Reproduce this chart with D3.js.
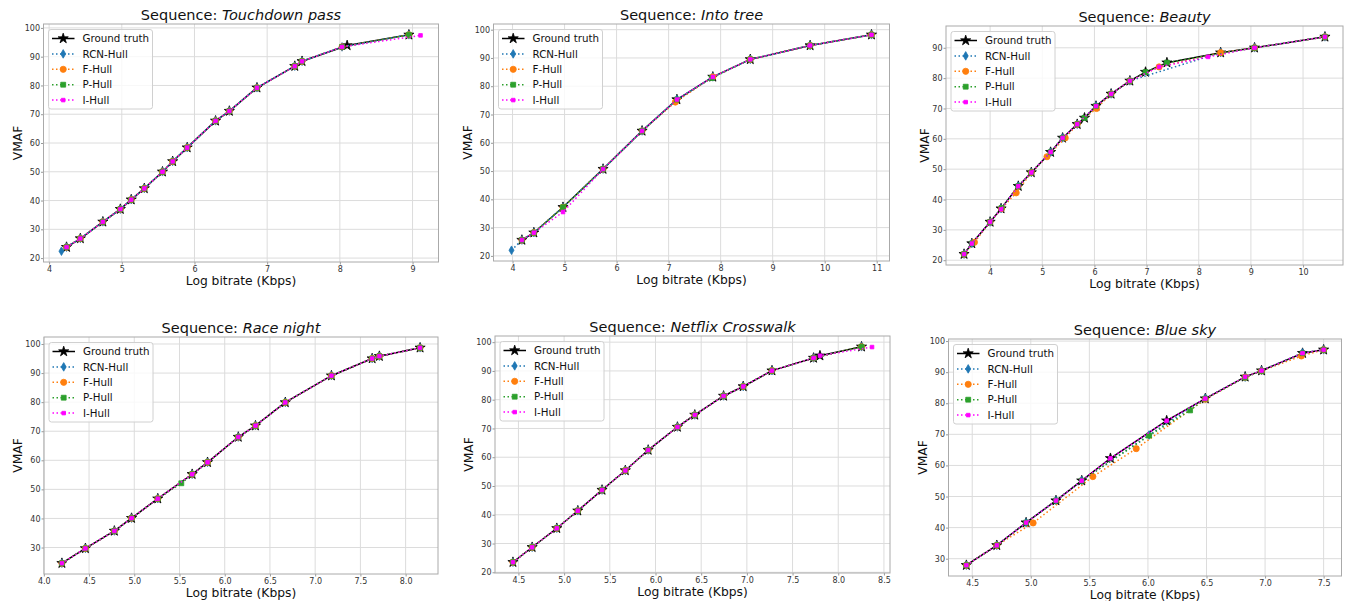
<!DOCTYPE html>
<html><head><meta charset="utf-8">
<script src="https://cdn.jsdelivr.net/npm/d3@7"></script>
<style>
body{margin:0;background:#fff;}
svg{display:block;font-family:"DejaVu Sans",sans-serif;}
</style>
</head><body>
<svg id="chart" width="1347" height="601"></svg>
<script>
// ---------------- DATA ----------------
const seriesNames = ["Ground truth", "RCN-Hull", "F-Hull", "P-Hull", "I-Hull"];
const seriesColors = ["#000000", "#1f77b4", "#ff7f0e", "#2ca02c", "#ff00ff"];
const panelTitles = ["Touchdown pass", "Into tree", "Beauty", "Race night", "Netflix Crosswalk", "Blue sky"];
const xLabel = "Log bitrate (Kbps)";
const yLabel = "VMAF";

// Touchdown pass
const tdGround = [[4.24,23.8],[4.43,26.8],[4.74,32.6],[4.98,37.0],[5.13,40.3],[5.31,44.2],[5.56,50.0],[5.70,53.6],[5.90,58.4],[6.29,67.7],[6.48,71.1],[6.86,79.2],[7.38,86.7],[7.48,88.4],[8.10,93.9],[8.95,97.6]];
const tdRcn = [[4.17,22.4],[4.24,23.8],[4.43,26.8],[4.74,32.6],[4.98,37.0],[5.13,40.3],[5.31,44.2],[5.56,50.0],[5.70,53.6],[5.90,58.4],[6.29,67.7],[6.48,71.1],[6.86,79.2],[7.38,86.7],[7.48,88.4],[8.03,93.4],[8.95,97.6]];
const tdF = [[4.24,23.8],[4.43,26.8],[4.74,32.6],[4.98,37.0],[5.13,40.3],[5.31,44.2],[5.56,50.0],[5.70,53.6],[5.90,58.4],[6.29,67.7],[6.48,71.1],[6.86,79.2],[7.38,86.7],[7.48,88.4],[8.03,93.4],[8.95,97.6]];
const tdP = [[4.24,23.8],[4.43,26.8],[4.74,32.6],[4.98,37.0],[5.13,40.3],[5.31,44.2],[5.56,50.0],[5.70,53.6],[5.90,58.4],[6.29,67.7],[6.48,71.1],[6.86,79.2],[7.38,86.7],[7.48,88.4],[8.03,93.4],[8.95,97.6]];
const tdI = [[4.24,23.8],[4.43,26.8],[4.74,32.6],[4.98,37.0],[5.13,40.3],[5.31,44.2],[5.56,50.0],[5.70,53.6],[5.90,58.4],[6.29,67.7],[6.48,71.1],[6.86,79.2],[7.38,86.7],[7.48,88.4],[8.03,93.4],[9.11,97.4]];

// Into tree
const itGround = [[4.18,25.6],[4.41,28.2],[4.97,37.2],[5.74,50.7],[6.49,64.2],[7.16,75.3],[7.85,83.3],[8.57,89.5],[9.72,94.4],[10.90,98.2]];
const itRcn = [[3.98,22.0],[4.18,25.6],[4.41,28.2],[4.97,37.2],[5.74,50.7],[6.49,64.2],[7.16,75.3],[7.85,83.3],[8.57,89.5],[9.72,94.4],[10.90,98.2]];
const itF = [[4.18,25.6],[4.41,28.2],[4.97,37.2],[5.74,50.7],[6.49,64.2],[7.13,74.4],[7.85,83.3],[8.57,89.5],[9.72,94.4],[10.90,98.2]];
const itP = [[4.18,25.6],[4.41,28.2],[4.97,37.2],[5.74,50.7],[6.49,64.2],[7.16,75.3],[7.83,82.9],[8.57,89.5],[9.72,94.4],[10.90,98.2]];
const itI = [[4.18,25.6],[4.41,28.2],[4.97,35.5],[5.74,50.7],[6.49,64.2],[7.16,75.3],[7.85,83.3],[8.57,89.5],[9.72,94.4],[10.90,98.2]];

// Beauty
const bGround = [[3.50,22.0],[3.65,25.5],[4.00,32.6],[4.21,37.0],[4.54,44.4],[4.79,48.9],[5.16,55.6],[5.39,60.3],[5.67,64.8],[5.81,66.9],[6.03,70.8],[6.32,74.8],[6.68,79.1],[6.98,82.0],[7.39,85.1],[8.42,88.4],[9.07,90.0],[10.42,93.6]];
const bRcn = [[3.50,22.0],[3.65,25.5],[4.00,32.6],[4.21,37.0],[4.54,44.4],[4.79,48.9],[5.16,55.6],[5.39,60.3],[5.67,64.8],[6.03,70.8],[6.32,74.8],[6.68,79.1],[8.42,88.4],[9.07,90.0],[10.42,93.6]];
const bF = [[3.50,22.0],[3.70,25.9],[4.00,32.6],[4.22,37.0],[4.50,42.2],[4.79,48.9],[5.09,54.1],[5.44,60.3],[5.67,64.8],[6.04,70.0],[6.32,74.8],[6.68,79.1],[7.24,83.7],[8.42,88.4],[9.07,90.0],[10.42,93.6]];
const bP = [[3.50,22.0],[3.65,25.5],[4.00,32.6],[4.22,37.2],[4.54,44.4],[4.79,48.9],[5.16,55.6],[5.39,60.3],[5.67,64.8],[5.81,66.9],[6.03,70.8],[6.32,74.8],[6.68,79.1],[6.98,82.0],[7.39,85.1],[9.07,90.0],[10.42,93.6]];
const bI = [[3.50,22.0],[3.65,25.5],[4.00,32.6],[4.21,36.8],[4.54,44.4],[4.79,48.9],[5.16,55.6],[5.39,60.3],[5.67,64.8],[6.03,70.8],[6.32,74.8],[6.68,79.1],[7.24,83.7],[8.18,87.0],[9.07,90.0],[10.42,93.6]];

// Race night
const rnGround = [[4.20,24.6],[4.46,29.7],[4.78,35.7],[4.97,40.1],[5.26,46.8],[5.64,55.2],[5.81,59.3],[6.15,68.0],[6.34,71.9],[6.67,79.9],[7.18,89.1],[7.63,95.0],[7.71,95.8],[8.16,98.7]];
const rnRcn = [[4.20,24.6],[4.46,29.7],[4.78,35.7],[4.97,40.1],[5.26,46.8],[5.64,55.2],[5.81,59.3],[6.15,68.0],[6.34,71.9],[6.67,79.9],[7.18,89.1],[7.63,95.0],[7.71,95.8],[8.16,98.7]];
const rnF = [[4.20,24.6],[4.46,29.7],[4.78,35.7],[4.97,40.1],[5.26,46.8],[5.64,55.2],[5.81,59.3],[6.15,68.0],[6.34,71.9],[6.67,79.9],[7.18,89.1],[7.63,95.0],[7.71,95.8],[8.16,98.7]];
const rnP = [[4.20,24.6],[4.46,29.7],[4.78,35.7],[4.97,40.1],[5.26,46.8],[5.52,52.1],[5.64,55.2],[5.81,59.3],[6.15,68.0],[6.34,71.9],[6.67,79.9],[7.18,89.1],[7.63,95.0],[7.71,95.8],[8.16,98.7]];
const rnI = [[4.20,24.6],[4.46,29.7],[4.78,35.7],[4.97,40.1],[5.26,46.8],[5.64,55.2],[5.81,59.3],[6.15,68.0],[6.34,71.9],[6.67,79.9],[7.18,89.1],[7.63,95.0],[7.71,95.8],[8.16,98.7]];

// Netflix Crosswalk
const ncGround = [[4.44,23.5],[4.65,28.7],[4.92,35.3],[5.15,41.4],[5.415,48.6],[5.67,55.4],[5.92,62.5],[6.24,70.5],[6.43,74.7],[6.745,81.3],[6.96,84.6],[7.275,90.1],[7.73,94.5],[7.80,95.3],[8.255,98.4]];
const ncRcn = [[4.44,23.5],[4.65,28.7],[4.92,35.3],[5.15,41.4],[5.415,48.6],[5.67,55.4],[5.92,62.5],[6.24,70.5],[6.43,74.7],[6.745,81.3],[6.96,84.6],[7.275,90.1],[7.73,94.5],[8.255,98.4]];
const ncF = [[4.44,23.5],[4.65,28.7],[4.92,35.3],[5.15,41.4],[5.415,48.6],[5.67,55.4],[5.92,62.5],[6.24,70.5],[6.43,74.7],[6.745,81.3],[6.96,84.6],[7.275,90.1],[7.73,94.5],[8.255,98.4]];
const ncP = [[4.44,23.5],[4.65,28.7],[4.92,35.3],[5.15,41.4],[5.415,48.6],[5.67,55.4],[5.92,62.5],[6.24,70.5],[6.43,74.7],[6.745,81.3],[6.96,84.6],[7.275,90.1],[7.73,94.5],[8.255,98.4]];
const ncI = [[4.44,23.5],[4.65,28.7],[4.92,35.3],[5.15,41.4],[5.415,48.6],[5.67,55.4],[5.92,62.5],[6.24,70.5],[6.43,74.7],[6.745,81.3],[6.96,84.6],[7.275,90.1],[7.73,94.5],[7.80,95.3],[8.37,98.3]];

// Blue sky
const bsGround = [[4.45,27.9],[4.71,34.3],[4.96,41.6],[5.215,48.7],[5.435,55.1],[5.68,62.3],[6.16,74.4],[6.49,81.5],[6.83,88.5],[6.97,90.5],[7.32,96.1],[7.50,97.2]];
const bsRcn = [[4.45,27.9],[4.71,34.3],[4.96,41.6],[5.215,48.7],[5.435,55.1],[6.01,69.8],[6.49,81.6],[6.83,88.4],[6.97,90.5],[7.32,96.2],[7.50,97.2]];
const bsF = [[4.45,27.9],[4.71,34.3],[5.02,41.5],[5.53,56.4],[5.90,65.4],[6.49,81.3],[6.83,88.4],[6.97,90.4],[7.31,95.2],[7.50,97.2]];
const bsP = [[4.45,27.9],[4.71,34.3],[4.96,41.6],[5.215,48.7],[5.435,55.1],[6.01,69.6],[6.36,77.7],[6.49,81.5],[6.83,88.3],[6.97,90.4],[7.32,96.1],[7.50,97.2]];
const bsI = [[4.45,27.9],[4.71,34.3],[4.96,41.6],[5.215,48.7],[5.435,55.1],[5.68,62.3],[6.16,74.4],[6.49,81.5],[6.83,88.5],[6.97,90.5],[7.32,96.1],[7.50,97.2]];

// Tick labels per panel
const xTicksTd = [4, 5, 6, 7, 8, 9];
const xTicksIt = [4, 5, 6, 7, 8, 9, 10, 11];
const xTicksB  = [4, 5, 6, 7, 8, 9, 10];
const xTicksRn = [4.0, 4.5, 5.0, 5.5, 6.0, 6.5, 7.0, 7.5, 8.0];
const xTicksNc = [4.5, 5.0, 5.5, 6.0, 6.5, 7.0, 7.5, 8.0, 8.5];
const xTicksBs = [4.5, 5.0, 5.5, 6.0, 6.5, 7.0, 7.5];
const yTicksTd = [20, 30, 40, 50, 60, 70, 80, 90, 100];
const yTicksIt = [20, 30, 40, 50, 60, 70, 80, 90, 100];
const yTicksB  = [20, 30, 40, 50, 60, 70, 80, 90];
const yTicksRn = [30, 40, 50, 60, 70, 80, 90, 100];
const yTicksNc = [20, 30, 40, 50, 60, 70, 80, 90, 100];
const yTicksBs = [30, 40, 50, 60, 70, 80, 90, 100];

// ---------------- LAYOUT ----------------
const panels = [
  {title: panelTitles[0], series: [tdGround, tdRcn, tdF, tdP, tdI], xt: xTicksTd, yt: yTicksTd, fmt: d3.format("d"), box: {l: 43.5, t: 24, w: 395, h: 238}},
  {title: panelTitles[1], series: [itGround, itRcn, itF, itP, itI], xt: xTicksIt, yt: yTicksIt, fmt: d3.format("d"), box: {l: 493.5, t: 24, w: 396, h: 237}},
  {title: panelTitles[2], series: [bGround, bRcn, bF, bP, bI], xt: xTicksB, yt: yTicksB, fmt: d3.format("d"), box: {l: 946, t: 26, w: 397, h: 239}},
  {title: panelTitles[3], series: [rnGround, rnRcn, rnF, rnP, rnI], xt: xTicksRn, yt: yTicksRn, fmt: d3.format(".1f"), box: {l: 44, t: 337, w: 394, h: 237}},
  {title: panelTitles[4], series: [ncGround, ncRcn, ncF, ncP, ncI], xt: xTicksNc, yt: yTicksNc, fmt: d3.format(".1f"), box: {l: 495, t: 336, w: 395, h: 237}},
  {title: panelTitles[5], series: [bsGround, bsRcn, bsF, bsP, bsI], xt: xTicksBs, yt: yTicksBs, fmt: d3.format(".1f"), box: {l: 948.5, t: 339, w: 393, h: 237}}
];

const svg = d3.select("#chart");

// marker shapes
const thinDiamond = "M0,-4.3L2.5,0L0,4.3L-2.5,0Z";
const markerPaths = [
  d3.symbol(d3.symbolStar, 32)(),
  thinDiamond,
  d3.symbol(d3.symbolCircle, 30)(),
  d3.symbol(d3.symbolSquare, 24)(),
  d3.symbol(d3.symbolSquare, 13)()
];

function styleLine(sel, i) {
  sel.attr("fill", "none").attr("stroke", seriesColors[i]).attr("stroke-width", 1.5);
  if (i > 0) sel.attr("stroke-dasharray", "1.5,2.5");
  return sel;
}

panels.forEach(p => {
  const b = p.box;
  const allPts = p.series.flat();
  const xe = d3.extent(allPts, d => d[0]);
  const ye = d3.extent(allPts, d => d[1]);
  const xp = (xe[1] - xe[0]) * 0.05, yp = (ye[1] - ye[0]) * 0.05;
  const x = d3.scaleLinear().domain([xe[0] - xp, xe[1] + xp]).range([b.l, b.l + b.w]);
  const y = d3.scaleLinear().domain([ye[0] - yp, ye[1] + yp]).range([b.t + b.h, b.t]);

  const g = svg.append("g");

  // grid
  g.append("g").selectAll("line").data(p.xt).join("line")
    .attr("x1", d => x(d)).attr("x2", d => x(d)).attr("y1", b.t).attr("y2", b.t + b.h)
    .attr("stroke", "#dcdcdc").attr("stroke-width", 1);
  g.append("g").selectAll("line").data(p.yt).join("line")
    .attr("y1", d => y(d)).attr("y2", d => y(d)).attr("x1", b.l).attr("x2", b.l + b.w)
    .attr("stroke", "#dcdcdc").attr("stroke-width", 1);

  // axes
  const xa = g.append("g").attr("transform", `translate(0,${b.t + b.h})`)
    .call(d3.axisBottom(x).tickValues(p.xt).tickFormat(p.fmt).tickSize(2.5).tickPadding(1.5));
  const ya = g.append("g").attr("transform", `translate(${b.l},0)`)
    .call(d3.axisLeft(y).tickValues(p.yt).tickFormat(d3.format("d")).tickSize(2.5).tickPadding(1));
  [xa, ya].forEach(a => {
    a.select(".domain").remove();
    a.selectAll(".tick line").attr("stroke", "#999");
    a.selectAll(".tick text").attr("fill", "#333").style("font-size", "8px").style("font-family", "DejaVu Sans");
  });

  // frame
  g.append("rect").attr("x", b.l).attr("y", b.t).attr("width", b.w).attr("height", b.h)
    .attr("fill", "none").attr("stroke", "#aaaaaa").attr("stroke-width", 1);

  // series
  const line = d3.line().x(d => x(d[0])).y(d => y(d[1]));
  p.series.forEach((s, i) => {
    styleLine(g.append("path").datum(s).attr("d", line), i);
    g.append("g").selectAll("path").data(s).join("path")
      .attr("d", markerPaths[i])
      .attr("transform", d => `translate(${x(d[0])},${y(d[1])})`)
      .attr("fill", seriesColors[i]).attr("stroke", seriesColors[i]).attr("stroke-width", 0.8);
  });

  // title
  const t = g.append("text").attr("x", b.l + b.w / 2).attr("y", b.t - 3.8)
    .attr("text-anchor", "middle").style("font-size", "14.5px").attr("fill", "#111");
  t.append("tspan").text("Sequence: ");
  t.append("tspan").style("font-style", "italic").text(p.title);

  // x label
  g.append("text").attr("x", b.l + b.w / 2).attr("y", b.t + b.h + 22.8)
    .attr("text-anchor", "middle").style("font-size", "12.3px").attr("fill", "#111").text(xLabel);

  // y label
  let maxW = 0;
  ya.selectAll(".tick text").each(function() { maxW = Math.max(maxW, this.getComputedTextLength()); });
  const yx = b.l - 3.5 - maxW - 3;
  g.append("text").attr("transform", `translate(${yx},${b.t + b.h / 2}) rotate(-90)`)
    .attr("text-anchor", "middle").style("font-size", "12.3px").attr("fill", "#111").text(yLabel);

  // legend
  const lx = b.l + 5, ly = b.t + 5.5;
  const lg = g.append("g");
  lg.append("rect").attr("x", lx).attr("y", ly).attr("width", 104).attr("height", 79.5).attr("rx", 2.5)
    .attr("fill", "#fff").attr("fill-opacity", 0.8).attr("stroke", "#d0d0d0").attr("stroke-width", 1);
  seriesNames.forEach((name, i) => {
    const cy = ly + 9 + i * 15.4;
    styleLine(lg.append("line").attr("x1", lx + 3.5).attr("x2", lx + 26).attr("y1", cy).attr("y2", cy), i);
    lg.append("path").attr("d", markerPaths[i]).attr("transform", `translate(${lx + 14.7},${cy})`)
      .attr("fill", seriesColors[i]).attr("stroke", seriesColors[i]).attr("stroke-width", 0.8);
    lg.append("text").attr("x", lx + 34).attr("y", cy + 3.7).style("font-size", "10.3px").attr("fill", "#111").text(name);
  });
});
</script>
</body></html>
